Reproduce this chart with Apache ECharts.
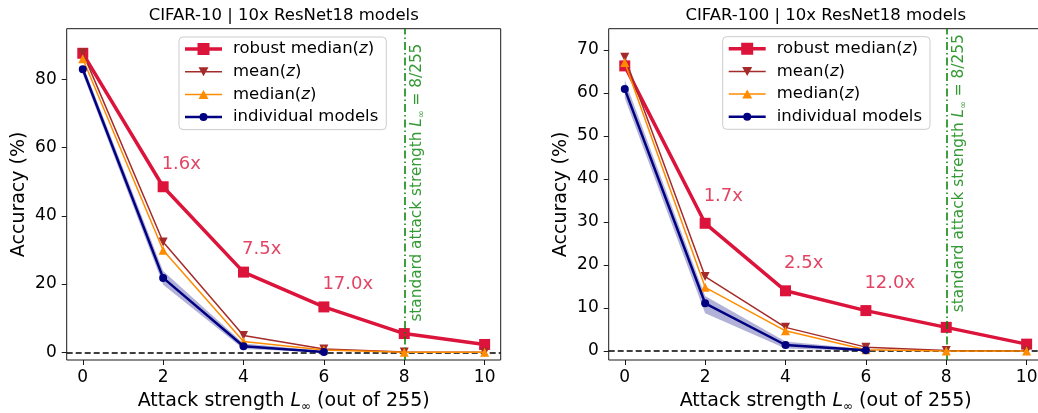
<!DOCTYPE html>
<html><head><meta charset="utf-8">
<script src="https://cdn.jsdelivr.net/npm/echarts@6/dist/echarts.min.js"></script>
<style>html,body{margin:0;padding:0;background:#fff}#c{width:1038px;height:413px}</style>
</head><body><div id="c"></div>
<script>
// ---------- data ----------
const xValues = [0, 2, 4, 6, 8, 10];
const xIndiv = [0, 2, 4, 6];
const xTicks = [0, 2, 4, 6, 8, 10];
// CIFAR-10
const c10Robust = [87.6, 48.5, 23.5, 13.3, 5.5, 2.3];
const c10Mean = [87.8, 32.3, 4.9, 1.0, 0.1, 0.0];
const c10Median = [86.0, 29.9, 3.2, 0.7, 0.0, 0.0];
const c10Indiv = [82.9, 21.8, 1.8, 0.1];
const c10IndivLow = [81.5, 19.8, 1.0, 0.0];
const c10IndivHigh = [84.3, 23.8, 2.6, 0.4];
const c10AnnotText = ['1.6x', '7.5x', '17.0x'];
const c10YTicks = [0, 20, 40, 60, 80];
// CIFAR-100
const c100Robust = [66.3, 29.7, 14.0, 9.4, 5.5, 1.6];
const c100Mean = [68.3, 17.3, 5.5, 0.9, 0.1, 0.0];
const c100Median = [67.1, 14.8, 4.7, 0.3, 0.0, 0.0];
const c100Indiv = [60.9, 11.1, 1.4, 0.2];
const c100IndivLow = [58.8, 8.8, 0.6, 0.0];
const c100IndivHigh = [63.0, 12.8, 2.2, 0.4];
const c100AnnotText = ['1.7x', '2.5x', '12.0x'];
const c100YTicks = [0, 10, 20, 30, 40, 50, 60, 70];
const annotX = [2, 4, 6];
const titles = ['CIFAR-10 | 10x ResNet18 models', 'CIFAR-100 | 10x ResNet18 models'];
const seriesNames = ['robust median(z)', 'mean(z)', 'median(z)', 'individual models'];
const standardAttack = 8;
const standardLabelY = 9;

// ---------- styling ----------
const FONT = 'DejaVu Sans';
const C_ROBUST = '#DC143C', C_MEAN = '#A52A2A', C_MEDIAN = '#FF8C00', C_INDIV = '#000080', C_GREEN = '#008000';
const panels = [
  {robust: c10Robust, mean: c10Mean, median: c10Median, indiv: c10Indiv, low: c10IndivLow, high: c10IndivHigh,
   annot: c10AnnotText, yTicks: c10YTicks, ymin: -2.25, ymax: 94.8, left: 66.7, legendLeft: 179, legendTop: 37},
  {robust: c100Robust, mean: c100Mean, median: c100Median, indiv: c100Indiv, low: c100IndivLow, high: c100IndivHigh,
   annot: c100AnnotText, yTicks: c100YTicks, ymin: -2.09, ymax: 74.95, left: 608.7, legendLeft: 722.7, legendTop: 36.7}
];
const GRID_TOP = 28.7, GRID_W = 434, GRID_H = 331.3;
const zip = (xs, ys) => xs.map((x, i) => [x, ys[i]]);

const grids = [], xAxes = [], yAxes = [], series = [], legends = [], graphics = [];
const richBase = {
  n: {fontFamily: FONT, fontSize: 19, color: '#000', lineHeight: 24},
  i: {fontFamily: FONT, fontSize: 19, color: '#000', fontStyle: 'italic', lineHeight: 24},
  s: {fontFamily: FONT, fontSize: 12, color: '#000', lineHeight: 24, verticalAlign: 'bottom', padding: [7, 0, 0, 0]}
};
const legendIcons = {
  'robust median(z)': 'path://M0,0M43,14M0,5.25H37V8.75H0ZM12.5,1H24.5V13H12.5Z',
  'mean(z)': 'path://M0,0M43,14M0,6.25H37V7.75H0ZM13.5,2.5H23.5L18.5,11.5Z',
  'median(z)': 'path://M0,0M43,14M0,6.25H37V7.75H0ZM18.5,2.5L23.5,11.5H13.5Z',
  'individual models': 'path://M0,0M43,14M0,5.75H37V8.25H0ZM22.5,7A4,4 0 1 1 14.5,7A4,4 0 1 1 22.5,7Z'
};
const legendColors = [C_ROBUST, C_MEAN, C_MEDIAN, C_INDIV];

panels.forEach((p, k) => {
  grids.push({left: p.left, top: GRID_TOP, width: GRID_W, height: GRID_H, show: true, outerBoundsMode: 'none',
    containLabel: false, borderColor: '#1a1a1a', borderWidth: 1, backgroundColor: 'transparent'});
  xAxes.push({type: 'value', gridIndex: k, min: -0.4, max: 10.4,
    splitLine: {show: false}, axisLine: {show: false, onZero: false},
    axisTick: {show: true, length: 5, customValues: xTicks, lineStyle: {color: '#1a1a1a', width: 1}},
    axisLabel: {customValues: xTicks, fontFamily: FONT, fontSize: 17, color: '#000', margin: 9},
    name: '{n|Attack strength }{i|L}{s|∞}{n| (out of 255)}', nameLocation: 'middle', nameGap: 29,
    nameTextStyle: {fontFamily: FONT, fontSize: 19, color: '#000', rich: richBase}});
  yAxes.push({type: 'value', gridIndex: k, min: p.ymin, max: p.ymax,
    splitLine: {show: false}, axisLine: {show: false, onZero: false},
    axisTick: {show: true, length: 5, customValues: p.yTicks, lineStyle: {color: '#1a1a1a', width: 1}},
    axisLabel: {customValues: p.yTicks, fontFamily: FONT, fontSize: 17, color: '#000', margin: 10},
    name: 'Accuracy (%)', nameLocation: 'middle', nameGap: 38,
    nameTextStyle: {fontFamily: FONT, fontSize: 19, color: '#000'}});

  // shaded band around individual models
  series.push({name: 'band-' + k, type: 'custom', xAxisIndex: k, yAxisIndex: k, silent: true, z: 1,
    data: [[xIndiv[0], p.low[0]]],
    renderItem: (params, api) => {
      const upper = xIndiv.map((x, i) => api.coord([x, p.high[i]]));
      const lower = xIndiv.map((x, i) => api.coord([x, p.low[i]])).reverse();
      return {type: 'polygon', shape: {points: upper.concat(lower)}, style: {fill: 'rgba(0,0,128,0.3)'}};
    }});

  series.push({name: seriesNames[0], type: 'line', xAxisIndex: k, yAxisIndex: k, data: zip(xValues, p.robust),
    symbol: 'rect', symbolSize: 11, lineStyle: {color: C_ROBUST, width: 3.5},
    itemStyle: {color: C_ROBUST, borderWidth: 0}, z: 3,
    markLine: {silent: true, symbol: 'none', label: {show: false},
      data: [{yAxis: 0, lineStyle: {color: '#000', type: [6, 3], width: 1.5}},
             {xAxis: standardAttack, lineStyle: {color: C_GREEN, type: [8, 3, 1.5, 3], width: 1.5}}]}});
  series.push({name: seriesNames[1], type: 'line', xAxisIndex: k, yAxisIndex: k, data: zip(xValues, p.mean),
    symbol: 'triangle', symbolRotate: 180, symbolSize: 9, lineStyle: {color: C_MEAN, width: 1.5},
    itemStyle: {color: C_MEAN, borderWidth: 0}, z: 4});
  series.push({name: seriesNames[2], type: 'line', xAxisIndex: k, yAxisIndex: k, data: zip(xValues, p.median),
    symbol: 'triangle', symbolSize: 9, lineStyle: {color: C_MEDIAN, width: 1.5},
    itemStyle: {color: C_MEDIAN, borderWidth: 0}, z: 5});
  series.push({name: seriesNames[3], type: 'line', xAxisIndex: k, yAxisIndex: k, data: zip(xIndiv, p.indiv),
    symbol: 'circle', symbolSize: 8, lineStyle: {color: C_INDIV, width: 2.5},
    itemStyle: {color: C_INDIV, borderWidth: 0}, z: 6});

  // ratio annotations, anchored above the robust points
  series.push({name: 'annot-' + k, type: 'scatter', xAxisIndex: k, yAxisIndex: k, silent: true, z: 7,
    symbolSize: 1, itemStyle: {color: 'rgba(0,0,0,0)'},
    data: annotX.map((x, i) => ({value: [x, p.robust[xValues.indexOf(x)] + 5], name: p.annot[i]})),
    label: {show: true, formatter: d => d.name, position: [-1, 4], align: 'left', verticalAlign: 'bottom',
      fontFamily: FONT, fontSize: 18, color: C_ROBUST}});
  // standard attack label
  series.push({name: 'std-' + k, type: 'scatter', xAxisIndex: k, yAxisIndex: k, silent: true, z: 7,
    symbolSize: 1, itemStyle: {color: 'rgba(0,0,0,0)'}, data: [[standardAttack, standardLabelY]],
    label: {show: true, formatter: '{n|standard attack strength }{i|L}{s|∞}{n| = 8/255}', rotate: 90,
      position: [13, 0.5], align: 'left', verticalAlign: 'middle', color: C_GREEN,
      rich: {n: {fontFamily: FONT, fontSize: 15.3, color: C_GREEN, lineHeight: 19},
             i: {fontFamily: FONT, fontSize: 15.3, color: C_GREEN, fontStyle: 'italic', lineHeight: 19},
             s: {fontFamily: FONT, fontSize: 9.5, color: C_GREEN, lineHeight: 19, verticalAlign: 'bottom', padding: [5, 0, 0, 0]}}}});

  legends.push({left: p.legendLeft, top: p.legendTop, orient: 'vertical', itemWidth: 43, itemHeight: 14,
    itemGap: 5.7, padding: [3.5, 8, 4, 6], borderColor: '#cccccc', borderWidth: 1, borderRadius: 4,
    backgroundColor: 'rgba(255,255,255,0.8)', selectedMode: false,
    itemStyle: {borderWidth: 0},
    data: seriesNames.map((n, i) => ({name: n, icon: legendIcons[n], itemStyle: {color: legendColors[i], borderWidth: 0}})),
    formatter: n => '{n|' + n.replace('(z)', '(}{i|z}{n|)') + '}',
    textStyle: {fontFamily: FONT, fontSize: 16.5, color: '#000',
      rich: {n: {fontFamily: FONT, fontSize: 16.5, color: '#000', lineHeight: 19},
             i: {fontFamily: FONT, fontSize: 16.5, color: '#000', fontStyle: 'italic', lineHeight: 19}}}});

  graphics.push({type: 'text', x: p.left + GRID_W / 2, y: 15.3, silent: true,
    style: {text: titles[k], fontFamily: FONT, fontSize: 16.5, fill: '#000', align: 'center', verticalAlign: 'middle'}});
});

const chart = echarts.init(document.getElementById('c'), null, {renderer: 'canvas'});
chart.setOption({animation: false, backgroundColor: '#fff', grid: grids, xAxis: xAxes, yAxis: yAxes,
  series: series, legend: legends, graphic: graphics});
</script></body></html>
